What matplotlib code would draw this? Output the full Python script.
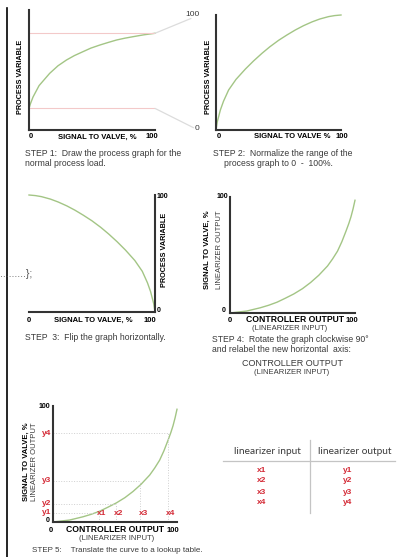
#!/usr/bin/env python3
"""Five-step linearizer diagram: from process graph to lookup table."""

import matplotlib
matplotlib.use('Agg')
import matplotlib.pyplot as plt
from matplotlib.lines import Line2D
from matplotlib.patches import ConnectionPatch

plt.rcParams['font.family'] = ['Liberation Sans', 'DejaVu Sans']

# Step 1: raw process graph (PV in % of instrument span)
signal_raw = [0, 1, 3.2, 8, 16.4, 23, 29.7, 36, 42.9, 49, 56.2, 63, 69.5, 76, 82.8, 91, 100]
pv_raw = [18, 21.5, 27.5, 37, 47.2, 53.5, 58.3, 62, 65.3, 68.2, 70.8, 73, 75, 76.5, 77.8, 79.3, 80.6]
pv_low, pv_high = 18, 80.6

# Steps 2-3: normalized process graph
signal_pct = [0, 1, 3.5, 6, 10.1, 16, 23.5, 30, 36.8, 43, 50.1, 57, 63.5, 70, 76.8, 83, 90.1, 95, 100]
pv_norm = [0, 7, 17.4, 25, 34.8, 44, 53, 60, 66.7, 72.3, 78, 82.8, 87, 90.7, 94, 96.5, 98.6, 99.5, 100]

# Steps 4-5: rotated graph, controller output -> signal to valve
ctrl_out = [0, 13.4, 24.2, 31, 37.6, 44, 51, 58, 64.5, 71, 78, 82, 86, 89.5, 92.7, 95, 96.8, 98.5, 100]
valve_sig = [0, 1.7, 4.5, 6.7, 9.3, 12.6, 16.4, 21, 26.3, 32.5, 40.5, 46.5, 53.3, 61.5, 70.3, 77, 83, 90, 97.2]

# lookup table points
x_pts = [37, 51, 70.4, 92.7]
y_pts = [7.9, 15.9, 35.4, 76.5]
x_names = ['x1', 'x2', 'x3', 'x4']
y_names = ['y1', 'y2', 'y3', 'y4']

W, H = 404, 557
GREEN = '#a3c585'
AXC = '#333333'
TXT = '#3a3a3a'
RED = '#d42a36'

fig = plt.figure(figsize=(W / 100, H / 100), dpi=100)


def panel(x0, y0, x1, y1, side='left'):
    ax = fig.add_axes([x0 / W, 1 - y1 / H, (x1 - x0) / W, (y1 - y0) / H])
    ax.set_xlim(0, 100)
    ax.set_ylim(0, 100)
    for s in ax.spines:
        ax.spines[s].set_visible(s in (side, 'bottom'))
        ax.spines[s].set_color(AXC)
        ax.spines[s].set_linewidth(1.5)
    ax.set_xticks([])
    ax.set_yticks([])
    ax.patch.set_alpha(0)
    return ax


def txt(x, y, s, size=5.5, bold=False, ha='center', va='center', color=None, **kw):
    fig.text(x / W, 1 - y / H, s, fontsize=size, ha=ha, va=va,
             fontweight='bold' if bold else 'normal',
             color=color or ('black' if bold else TXT), **kw)


# left margin rule and stray snippet
fig.add_artist(Line2D([7 / W, 7 / W], [1 - 8 / H, 0], color='black', lw=1.2))
txt(0, 274, '.........};', size=7.5, ha='left', color='#555555')

# ---- Step 1
ax1 = panel(29, 10, 155, 130)
ax1.plot(signal_raw, pv_raw, color=GREEN, lw=1, clip_on=False)
for v in (pv_low, pv_high):
    ax1.axhline(v, color='#f3c9c9', lw=0.8)
txt(21, 77, 'PROCESS VARIABLE', size=5.2, bold=True, rotation=90)
txt(31, 137, '0', bold=True)
txt(97, 137, 'SIGNAL TO VALVE, %', bold=True)
txt(152, 137, '100', bold=True)
txt(25, 153, 'STEP 1:  Draw the process graph for the', size=6.2, ha='left')
txt(25, 164, 'normal process load.', size=6.2, ha='left')

# ---- Step 2
ax2 = panel(216, 15, 341, 130)
ax2.plot(signal_pct, pv_norm, color=GREEN, lw=1, clip_on=False)
txt(200, 15, '100', size=6, ha='right')
txt(199, 129, '0', size=6, ha='right')
txt(208, 77, 'PROCESS VARIABLE', size=5.2, bold=True, rotation=90)
txt(219, 137, '0', bold=True)
txt(292, 137, 'SIGNAL TO VALVE %', bold=True)
txt(342, 137, '100', bold=True)
txt(283, 153, 'STEP 2:  Normalize the range of the', size=6.2)
txt(278, 164, 'process graph to 0  -  100%.', size=6.2)

# connectors from step 1 range to the normalized 0-100
for yv, target in ((pv_high, (-0.2, 0.97)), (pv_low, (-0.18, 0.02))):
    con = ConnectionPatch(xyA=(100, yv), coordsA=ax1.transData,
                          xyB=target, coordsB=ax2.transAxes,
                          color='#dcdcdc', lw=0.9)
    fig.add_artist(con)

# ---- Step 3: flipped horizontally
ax3 = panel(29, 195, 155, 312, side='right')
ax3.invert_xaxis()
ax3.plot(signal_pct, pv_norm, color=GREEN, lw=1, clip_on=False)
txt(157, 196, '100', size=5, bold=True, ha='left')
txt(157, 311, '0', size=5, bold=True, ha='left')
txt(164, 250, 'PROCESS VARIABLE', size=5.2, bold=True, rotation=90)
txt(29, 320, '0', bold=True)
txt(93, 320, 'SIGNAL TO VALVE, %', bold=True)
txt(150, 320, '100', bold=True)
txt(25, 337, 'STEP  3:  Flip the graph horizontally.', size=6.2, ha='left')

# ---- Step 4: rotated
ax4 = panel(230, 197, 355, 313)
ax4.plot(ctrl_out, valve_sig, color=GREEN, lw=1, clip_on=False)
txt(228, 197, '100', size=5, bold=True, ha='right')
txt(226, 311, '0', size=5, bold=True, ha='right')
txt(207, 250, 'SIGNAL TO VALVE, %', bold=True, rotation=90)
txt(219, 250, 'LINEARIZER OUTPUT', size=5.5, rotation=90)
txt(230, 320, '0', bold=True)
txt(295, 320, 'CONTROLLER OUTPUT', size=6.2, bold=True)
txt(352, 320, '100', bold=True)
txt(290, 328, '(LINEARIZER INPUT)', size=5.5)
txt(212, 340, 'STEP 4:  Rotate the graph clockwise 90°', size=6.2, ha='left')
txt(212, 350, 'and relabel the new horizontal  axis:', size=6.2, ha='left')
txt(292, 363, 'CONTROLLER OUTPUT', size=6.5)
txt(292, 372, '(LINEARIZER INPUT)', size=5.5)

# ---- Step 5: lookup points
ax5 = panel(53, 406, 177, 522)
ax5.plot(ctrl_out, valve_sig, color=GREEN, lw=1, clip_on=False)
for xv, yv, xn, yn in zip(x_pts, y_pts, x_names, y_names):
    ax5.plot([0, xv], [yv, yv], color='#cfcfcf', lw=0.7, ls=':')
    ax5.plot([xv, xv], [0, yv], color='#cfcfcf', lw=0.7, ls=':')
    ax5.annotate(xn, (xv, 0), xytext=(2, 3.5), textcoords='offset points',
                 ha='center', va='bottom', fontsize=6, fontweight='bold',
                 color=RED, annotation_clip=False)
    ax5.annotate(yn, (0, yv), xytext=(-1.5, 0), textcoords='offset points',
                 ha='right', va='center', fontsize=6, fontweight='bold',
                 color=RED, annotation_clip=False)
txt(50, 406, '100', size=5, bold=True, ha='right')
txt(50, 521, '0', size=5, bold=True, ha='right')
txt(26, 462, 'SIGNAL TO VALVE, %', bold=True, rotation=90)
txt(35, 462, 'LINEARIZER OUTPUT', size=5.5, rotation=90)
txt(51, 530, '0', bold=True)
txt(115, 530, 'CONTROLLER OUTPUT', size=6.2, bold=True)
txt(173, 530, '100', bold=True)
txt(117, 539, '(LINEARIZER INPUT)', size=5.5)
txt(32, 550, 'STEP 5:    Translate the curve to a lookup table.', size=5.8, ha='left')

# ---- lookup table
txt(267, 451, 'linearizer input', size=7.3, family=['Lato', 'DejaVu Sans'])
txt(355, 451, 'linearizer output', size=7.3, family=['Lato', 'DejaVu Sans'])
fig.add_artist(Line2D([223 / W, 395 / W], [1 - 461 / H] * 2, color='#c4c4c4', lw=0.9))
fig.add_artist(Line2D([310 / W, 310 / W], [1 - 440 / H, 1 - 513 / H], color='#c4c4c4', lw=0.9))
row_y = 470
for xn, yn in zip(x_names, y_names):
    txt(262, row_y, xn, size=6, bold=True, color=RED)
    txt(348, row_y, yn, size=6, bold=True, color=RED)
    row_y += 11

fig.savefig('out.png', dpi=100)
plt.close(fig)
